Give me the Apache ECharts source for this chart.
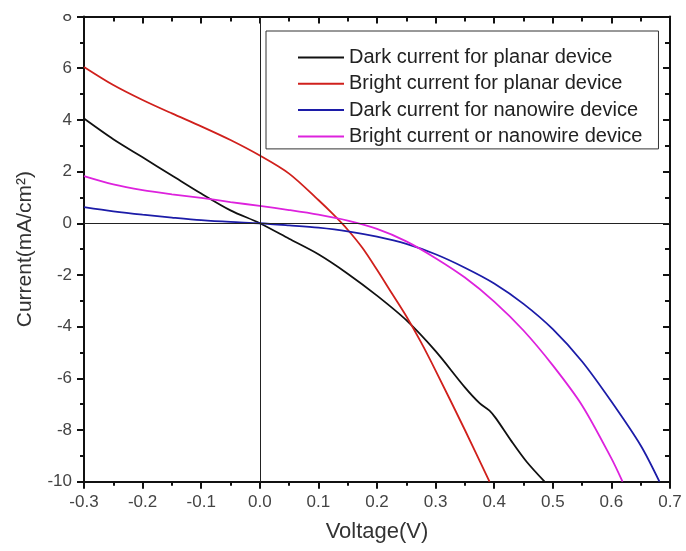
<!DOCTYPE html>
<html>
<head>
<meta charset="utf-8">
<script src="https://cdn.jsdelivr.net/npm/echarts@6/dist/echarts.min.js"></script>
<style>
html,body{margin:0;padding:0;background:#fff;}
#chart{width:686px;height:551px;}
</style>
</head>
<body>
<div id="chart"></div>
<script>
// 坐标刻度 [min, max, interval]
let xTicks = [-0.3, 0.7, 0.1];
let yTicks = [-10, 8, 2];

// Dark current for planar device
let darkPlanarV = [-0.3, -0.25, -0.2, -0.15, -0.1, -0.05, 0, 0.05, 0.1, 0.15, 0.2, 0.25, 0.3, 0.35, 0.375, 0.392, 0.403, 0.43, 0.455, 0.486];
let darkPlanarI = [4.05, 3.25, 2.55, 1.85, 1.15, 0.5, 0, -0.6, -1.2, -1.95, -2.8, -3.75, -4.95, -6.35, -6.96, -7.25, -7.55, -8.45, -9.22, -10];

// Bright current for planar device
let brightPlanarV = [-0.3, -0.25, -0.2, -0.15, -0.1, -0.05, 0, 0.05, 0.1, 0.125, 0.15, 0.175, 0.2, 0.225, 0.25, 0.275, 0.3, 0.35, 0.392];
let brightPlanarI = [6.05, 5.35, 4.77, 4.25, 3.75, 3.22, 2.62, 1.92, 0.9, 0.35, -0.25, -0.95, -1.8, -2.7, -3.6, -4.6, -5.7, -8.0, -10];

// Dark current for nanowire device
let darkNanoV = [-0.3, -0.25, -0.2, -0.15, -0.1, -0.05, 0, 0.05, 0.1, 0.15, 0.2, 0.25, 0.3, 0.35, 0.4, 0.45, 0.5, 0.55, 0.6, 0.65, 0.682];
let darkNanoI = [0.62, 0.46, 0.33, 0.22, 0.12, 0.05, 0, -0.08, -0.17, -0.31, -0.52, -0.8, -1.2, -1.72, -2.33, -3.12, -4.1, -5.35, -6.9, -8.6, -10];

// Bright current or nanowire device
let brightNanoV = [-0.3, -0.25, -0.2, -0.15, -0.1, -0.05, 0, 0.05, 0.1, 0.15, 0.2, 0.25, 0.3, 0.35, 0.4, 0.45, 0.5, 0.55, 0.6, 0.619];
let brightNanoI = [1.82, 1.5, 1.28, 1.12, 0.98, 0.82, 0.67, 0.51, 0.33, 0.1, -0.22, -0.7, -1.35, -2.1, -3.03, -4.15, -5.5, -7.05, -9.1, -10];

let seriesNames = ['Dark current for planar device', 'Bright current for planar device',
    'Dark current for nanowire device', 'Bright current or nanowire device'];
let seriesColors = ['#111111', '#d0201c', '#1c1ca8', '#dd22dd'];

function pairs(vs, is) {
    let out = [];
    for (let i = 0; i < vs.length; i++) {
        out.push([vs[i], is[i]]);
    }
    return out;
}

let fontName = '"Liberation Sans", Arial, sans-serif';

function makeAxis(range, opts) {
    let axis = {
        type: 'value',
        min: range[0],
        max: range[1],
        interval: range[2],
        axisLine: {show: true, onZero: false, lineStyle: {color: '#111', width: 2}},
        axisTick: {show: true, inside: opts.inside, length: 7, lineStyle: {color: '#111', width: 2}},
        minorTick: {show: true, splitNumber: 2, length: opts.inside ? 5 : 4, lineStyle: {color: '#111', width: 2}},
        splitLine: {show: false},
        axisLabel: {show: false}
    };
    return Object.assign(axis, opts.extra || {});
}

let chart = echarts.init(document.getElementById('chart'), null, {renderer: 'canvas'});

let allData = [
    pairs(darkPlanarV, darkPlanarI),
    pairs(brightPlanarV, brightPlanarI),
    pairs(darkNanoV, darkNanoI),
    pairs(brightNanoV, brightNanoI)
];
let series = [];
for (let i = 0; i < 4; i++) {
    series.push({
        name: seriesNames[i],
        type: 'line',
        data: allData[i],
        symbol: 'none',
        smooth: 0.3,
        color: seriesColors[i],
        lineStyle: {color: seriesColors[i], width: 1.8}
    });
}
// 零线
series[0].markLine = {
    silent: true,
    symbol: 'none',
    label: {show: false},
    lineStyle: {color: '#222', width: 1, type: 'solid'},
    data: [{xAxis: 0}, {yAxis: 0}]
};

let option = {
    animation: false,
    backgroundColor: '#fff',
    textStyle: {fontFamily: fontName},
    grid: {left: 84, right: 16, top: 16.5, bottom: 69.3},
    legend: {
        orient: 'vertical',
        left: 266,
        top: 31,
        padding: [16.5, 16, 2.5, 32],
        itemGap: 6.3,
        itemWidth: 46,
        itemHeight: 2,
        icon: 'rect',
        borderColor: '#333',
        borderWidth: 1,
        textStyle: {fontSize: 20, lineHeight: 18, color: '#222', fontFamily: fontName},
        data: seriesNames
    },
    xAxis: [
        makeAxis(xTicks, {inside: false, extra: {
            position: 'bottom',
            name: 'Voltage(V)',
            nameLocation: 'middle',
            nameGap: 39,
            nameTextStyle: {fontSize: 22, color: '#333', fontFamily: fontName},
            axisLabel: {show: true, fontSize: 17, color: '#444', margin: 12, fontFamily: fontName,
                formatter: function (v) { return v.toFixed(1); }}
        }}),
        makeAxis(xTicks, {inside: true, extra: {position: 'top'}})
    ],
    yAxis: [
        makeAxis(yTicks, {inside: false, extra: {
            position: 'left',
            name: 'Current(mA/cm²)',
            nameLocation: 'middle',
            nameGap: 48,
            nameRotate: 90,
            nameTextStyle: {fontSize: 21, color: '#333', fontFamily: fontName},
            axisLabel: {show: true, fontSize: 17, color: '#444', margin: 12, fontFamily: fontName}
        }}),
        makeAxis(yTicks, {inside: true, extra: {position: 'right'}})
    ],
    graphic: [{
        type: 'rect',
        left: 0,
        top: 0,
        z: 100,
        shape: {width: 80, height: 14},
        style: {fill: '#fff'}
    }],
    series: series
};

chart.setOption(option);
</script>
</body>
</html>
